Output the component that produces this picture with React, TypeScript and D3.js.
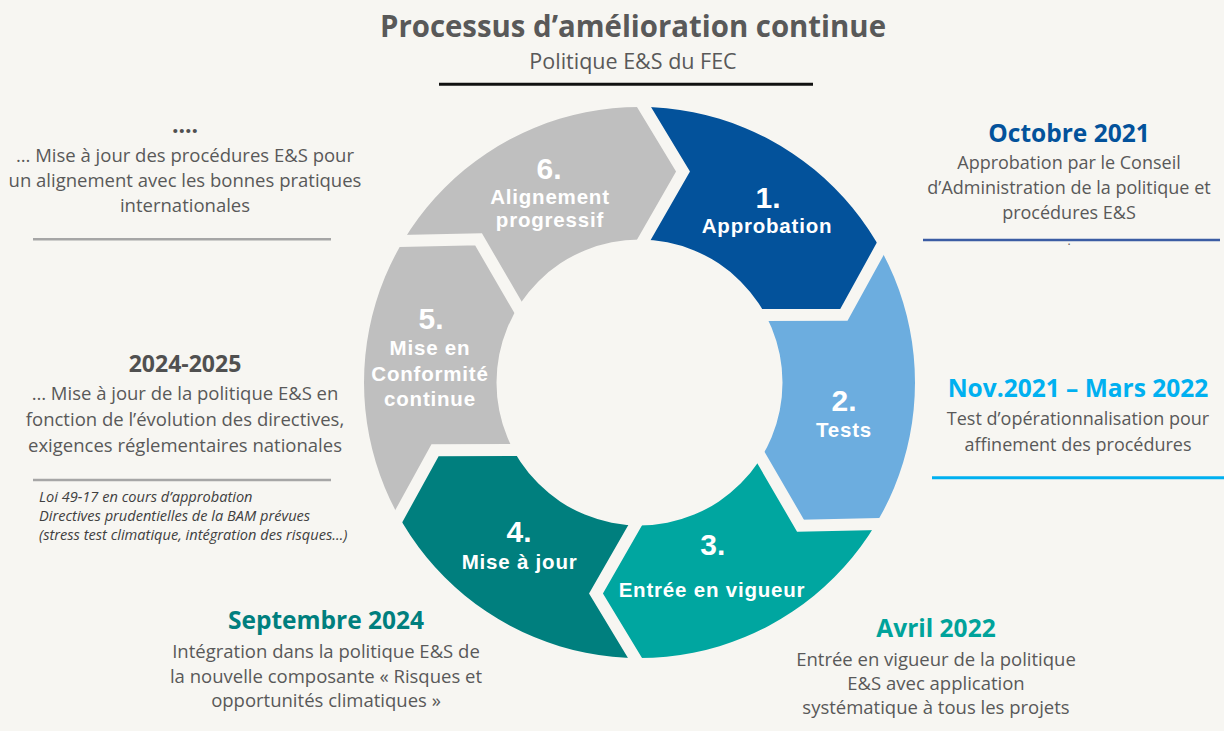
import React from "react";
import * as d3 from "d3";

// ---------- DATA ----------
const stepNumbers = ["1.", "2.", "3.", "4.", "5.", "6."];
const stepLabels = [
  ["Approbation"],
  ["Tests"],
  ["Entrée en vigueur"],
  ["Mise à jour"],
  ["Mise en", "Conformité", "continue"],
  ["Alignement", "progressif"],
];
const stepColors = ["#03529B", "#6CADDF", "#00A6A0", "#007F7E", "#BFBFBF", "#BFBFBF"];

const noteHeadings = ["Octobre 2021", "Nov.2021 – Mars 2022", "Avril 2022", "Septembre 2024", "2024-2025", "...."];
const noteLines = [
  ["Approbation par le Conseil", "d’Administration de la politique et", "procédures E&S"],
  ["Test d’opérationnalisation pour", "affinement des procédures"],
  ["Entrée en vigueur de la politique", "E&S avec application", "systématique à tous les projets"],
  ["Intégration dans la politique E&S de", "la nouvelle composante « Risques et", "opportunités  climatiques »"],
  ["… Mise à jour de la politique E&S en", "fonction de l’évolution des directives,", "exigences réglementaires nationales"],
  ["… Mise à jour des procédures E&S pour", "un alignement avec les bonnes pratiques", "internationales"],
];
const noteColors = ["#03529B", "#00B0F0", "#00A39B", "#007F7E", "#505050", "#505050"];
const footnotes = [
  "Loi 49-17 en cours d’approbation",
  "Directives prudentielles de la BAM prévues",
  "(stress test climatique, intégration des risques…)",
];
const titleText = "Processus d’amélioration continue";
const subtitleText = "Politique E&S du FEC";

// ---------- LAYOUT ----------
const W = 1224;
const H = 731;
const BG = "#F7F6F2";
const TEXT = "#595959";
const FONT = "'Open Sans', 'Noto Sans', sans-serif";
const LABEL_FONT = "'Liberation Sans', Arial, sans-serif";
const C = { x: 639.5, y: 382.5 };
const R_OUT = 275.5;
const R_IN = 143;
const GAP = 12;
// chevron cut profile in a local frame: [tangential offset, radius]
const cutOuter: [number, number] = [4.5, R_OUT];
const cutBend: [number, number] = [43.5, 211];
const cutInner: [number, number] = [4.5, R_IN];

const labelLayout = [
  { num: [23.9, 7], lab: [22.9, 32], lh: 25 },
  { num: [-4.75, 28.2], lab: [-4.75, 54.2], lh: 25 },
  { num: [-31.4, -8.7], lab: [-32.1, 33.6], lh: 25 },
  { num: [-15.9, -22], lab: [-15.3, 5.6], lh: 25 },
  { num: [0.75, -53.5], lab: [-0.25, -27.5], lh: 25.5 },
  { num: [14.1, -22], lab: [15.1, 2.7], lh: 23.4 },
];

const noteLayout = [
  { x: 1069, head: 141.7, body: 169.3, lh: 25, size: 18, hsize: 24.5 },
  { x: 1078, head: 397.3, body: 425, lh: 25.7, size: 18, hsize: 24.5 },
  { x: 936, head: 636.7, body: 666, lh: 24, size: 18.5, hsize: 24.5 },
  { x: 326, head: 629.3, body: 658.3, lh: 24.2, size: 18.5, hsize: 24.5 },
  { x: 185, head: 371.7, body: 400, lh: 25.9, size: 18.5, hsize: 23 },
  { x: 185, head: 133.3, body: 161.7, lh: 25, size: 18.5, hsize: 23 },
];

const separators = [
  { x1: 923, x2: 1220, y: 240, color: "#3B5CA3", w: 2.5 },
  { x1: 932, x2: 1224, y: 477.7, color: "#00B0F0", w: 3 },
  { x1: 33, x2: 331, y: 239.3, color: "#A6A6A6", w: 2.5 },
  { x1: 33, x2: 331, y: 480, color: "#A6A6A6", w: 2.5 },
  { x1: 439, x2: 813, y: 84.3, color: "#111111", w: 3 },
];

type P = [number, number];

function toScreen(p: P, theta: number): P {
  const [t, rho] = p;
  return [
    C.x + rho * Math.sin(theta) + t * Math.cos(theta),
    C.y - rho * Math.cos(theta) + t * Math.sin(theta),
  ];
}
function extend(p: P, from: P, k: number): P {
  return [p[0] + (p[0] - from[0]) * k, p[1] + (p[1] - from[1]) * k];
}

export default function App() {
  const n = stepNumbers.length;
  const angle = d3.scaleLinear().domain([0, n]).range([0, 2 * Math.PI]);
  const ringArc = d3.arc<any>();
  const ring = ringArc({ innerRadius: R_IN, outerRadius: R_OUT, startAngle: 0, endAngle: 2 * Math.PI }) as string;
  const line = d3.line<P>();

  const polyOuter = extend(cutOuter, cutBend, 1.0);
  const polyInner = extend(cutInner, cutBend, 0.3);
  const gapOuter = extend(cutOuter, cutBend, 0.2);
  const gapInner = extend(cutInner, cutBend, 0.15);

  const segments = stepNumbers.map((num, i) => {
    const a0 = angle(i);
    const a1 = angle(i + 1);
    const mid = (a0 + a1) / 2;
    const poly: P[] = [
      toScreen(polyOuter, a0),
      toScreen(cutBend, a0),
      toScreen(polyInner, a0),
      toScreen(polyInner, a1),
      toScreen(cutBend, a1),
      toScreen(polyOuter, a1),
      toScreen([0, 520], mid),
    ];
    const cen = ringArc.centroid({ innerRadius: R_IN, outerRadius: R_OUT, startAngle: a0, endAngle: a1 });
    return { i, num, poly: line(poly.concat([poly[0]])) as string, cx: C.x + cen[0], cy: C.y + cen[1] };
  });

  const gaps = stepNumbers.map((_, i) => {
    const a = angle(i);
    return line([toScreen(gapOuter, a), toScreen(cutBend, a), toScreen(gapInner, a)]) as string;
  });

  return (
    <svg
      width={W}
      height={H}
      viewBox={`0 0 ${W} ${H}`}
      style={{ position: "absolute", left: 0, top: 0, display: "block" }}
      fontFamily={FONT}
    >
      <rect x={0} y={0} width={W} height={H} fill={BG} />
      <defs>
        {segments.map((s) => (
          <clipPath id={`seg-${s.i}`} key={s.i}>
            <path d={s.poly} />
          </clipPath>
        ))}
      </defs>

      {/* ring segments */}
      {segments.map((s) => (
        <g key={s.i} clipPath={`url(#seg-${s.i})`}>
          <path d={ring} transform={`translate(${C.x},${C.y})`} fill={stepColors[s.i]} />
        </g>
      ))}
      {gaps.map((d, i) => (
        <path key={i} d={d} fill="none" stroke={BG} strokeWidth={GAP} strokeLinejoin="miter" />
      ))}

      {/* segment labels */}
      {segments.map((s) => {
        const L = labelLayout[s.i];
        return (
          <g key={s.i} fill="#FFFFFF" fontWeight={700} textAnchor="middle" fontFamily={LABEL_FONT}>
            <text x={s.cx + L.num[0]} y={s.cy + L.num[1]} fontSize={30}>
              {s.num}
            </text>
            {stepLabels[s.i].map((t, j) => (
              <text
                key={j}
                x={s.cx + L.lab[0]}
                y={s.cy + L.lab[1] + j * L.lh}
                fontSize={20.5}
                letterSpacing={0.8}
              >
                {t}
              </text>
            ))}
          </g>
        );
      })}

      {/* title */}
      <text
        x={633}
        y={36.7}
        textAnchor="middle"
        fontSize={30}
        fontWeight={700}
        fill={TEXT}
        textLength={506}
        lengthAdjust="spacingAndGlyphs"
      >
        {titleText}
      </text>
      <text x={633} y={69} textAnchor="middle" fontSize={21.5} fill={TEXT}>
        {subtitleText}
      </text>

      {/* separators */}
      {separators.map((s, i) => (
        <line key={i} x1={s.x1} x2={s.x2} y1={s.y} y2={s.y} stroke={s.color} strokeWidth={s.w} />
      ))}
      <text x={1069} y={245} textAnchor="middle" fontSize={12} fill={TEXT}>
        .
      </text>

      {/* notes */}
      {noteHeadings.map((h, i) => {
        const L = noteLayout[i];
        return (
          <g key={i} textAnchor="middle">
            <text x={L.x} y={L.head} fontSize={L.hsize} fontWeight={700} fill={noteColors[i]}>
              {h}
            </text>
            {noteLines[i].map((t, j) => (
              <text key={j} x={L.x} y={L.body + j * L.lh} fontSize={L.size} fill={TEXT}>
                {t}
              </text>
            ))}
          </g>
        );
      })}

      {/* footnotes */}
      {footnotes.map((t, j) => (
        <text key={j} x={39} y={501.5 + j * 19.3} fontSize={14.6} fontStyle="italic" fill="#404040">
          {t}
        </text>
      ))}
    </svg>
  );
}
